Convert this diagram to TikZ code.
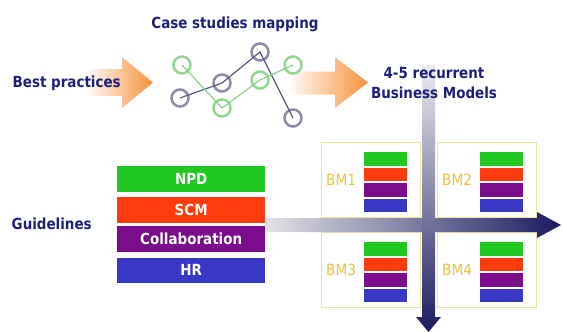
\documentclass[tikz,border=0pt]{standalone}
\usepackage{fontspec}
\setmainfont{DejaVu Sans}[FakeStretch=0.88]
\usepackage{tikz}
\usetikzlibrary{positioning}

\definecolor{labelblue}{HTML}{1E1E7C}
\definecolor{arroworange}{HTML}{F7913A}
\definecolor{npdgreen}{HTML}{20C820}
\definecolor{scmred}{HTML}{FF3A0C}
\definecolor{collabpurple}{HTML}{7B0C8C}
\definecolor{hrblue}{HTML}{3838C4}
\definecolor{bmgold}{HTML}{EDC23A}
\definecolor{bmyellow}{HTML}{EDE49C}
\definecolor{mapgray}{HTML}{8C8CA8}
\definecolor{mapgreen}{HTML}{92D692}
\definecolor{mapgrayline}{HTML}{5A5A80}
\definecolor{mapgreenline}{HTML}{8CCF8C}
\definecolor{arrownavy}{HTML}{1B1B60}
\definecolor{arrowlight}{HTML}{E2E2E6}
\definecolor{arrowmid}{HTML}{A8A8BC}

\tikzset{
  lbl/.style={font=\fontsize{15.3}{18}\selectfont\bfseries, text=labelblue, inner sep=0pt},
  guide/.style={minimum width=148pt, minimum height=25.7pt, inner sep=0pt,
    text=white, font=\fontsize{15.3}{18}\selectfont\bfseries},
  mapnode/.style={circle, minimum size=17pt, inner sep=0pt, line width=2.5pt},
  bmframe/.style={draw=bmyellow, line width=0.8pt, minimum width=99pt, minimum height=75pt, inner sep=0pt},
  bmlabel/.style={font=\fontsize{15.5}{18}\selectfont, text=bmgold, inner sep=0pt},
  bar/.style={minimum width=43pt, minimum height=13.5pt, inner sep=0pt},
}

\begin{document}
\begin{tikzpicture}[x=1pt, y=-1pt]
\useasboundingbox (0,0) rectangle (563,332);

% orange arrows
\shade[left color=white, middle color=arroworange, right color=arroworange]
  (85,69) -- (122,69) -- (122,57) -- (153,82.5) -- (122,108) -- (122,96) -- (85,96) -- cycle;
\shade[left color=white, middle color=arroworange, right color=arroworange]
  (287,71.5) -- (335,71.5) -- (335,57) -- (368,82.5) -- (335,108) -- (335,94.5) -- (287,94.5) -- cycle;

% case study map
\node[mapnode, draw=mapgray] (p1) at (180,98) {};
\node[mapnode, draw=mapgray] (p2) at (222,83) {};
\node[mapnode, draw=mapgray] (p3) at (260,52) {};
\node[mapnode, draw=mapgray] (p4) at (293,118) {};
\node[mapnode, draw=mapgreen] (q1) at (182,65) {};
\node[mapnode, draw=mapgreen] (q2) at (222,108) {};
\node[mapnode, draw=mapgreen] (q3) at (260,80) {};
\node[mapnode, draw=mapgreen] (q4) at (293,65) {};
\draw[mapgrayline, line width=1.2pt] (p1.center) -- (p2.center) -- (p3.center) -- (p4.center);
\draw[mapgreenline, line width=1.2pt] (q1.center) -- (q2.center) -- (q3.center) -- (q4.center);

\node[lbl, anchor=base] (cases) at (235,28.5) {Case studies mapping};
\node[lbl, anchor=base] (best) at (66.7,87.7) {Best practices};
\node[lbl, anchor=base] (guidelines) at (51.7,229.3) {Guidelines};

% guideline stack
\node[guide, fill=npdgreen, anchor=north west] (npd) at (117,166) {NPD};
\node[guide, fill=scmred, below=5pt of npd] (scm) {SCM};
\node[guide, fill=collabpurple, below=2.5pt of scm] (collab) {Collaboration};
\node[guide, fill=hrblue, below=5.5pt of collab] (hr) {HR};

% business model boxes
\foreach \bx/\by/\bm in {321/142/BM1, 437/142/BM2, 321/232/BM3, 437/232/BM4}{
  \node[bmframe, anchor=north west] (\bm) at (\bx,\by) {};
  \node[bmlabel, anchor=base west] (\bm-lbl) at ([xshift=5pt, yshift=-43pt]\bm.north west) {\bm};
  \foreach \c [count=\i] in {npdgreen,scmred,collabpurple,hrblue}
    \node[bar, fill=\c, anchor=north west] (\bm-\i)
      at ([xshift=43pt, yshift={-10pt-15.5pt*(\i-1)}]\bm.north west) {};
}

% axes
\shade[left color=arrowlight, middle color=arrowmid, right color=arrownavy]
  (265,218) -- (537,218) -- (537,212) -- (561,225) -- (537,238) -- (537,232) -- (265,232) -- cycle;
\shade[top color=arrowlight!60, middle color=arrowlight!70!arrowmid, bottom color=arrownavy]
  (422,65) -- (435,65) -- (435,317) -- (441,317) -- (428.5,332) -- (416,317) -- (422,317) -- cycle;

\node[lbl, anchor=base] (models1) at (434,78.3) {4-5 recurrent};
\node[lbl, anchor=base] (models2) at (434,98.3) {Business Models};
\end{tikzpicture}
\end{document}
